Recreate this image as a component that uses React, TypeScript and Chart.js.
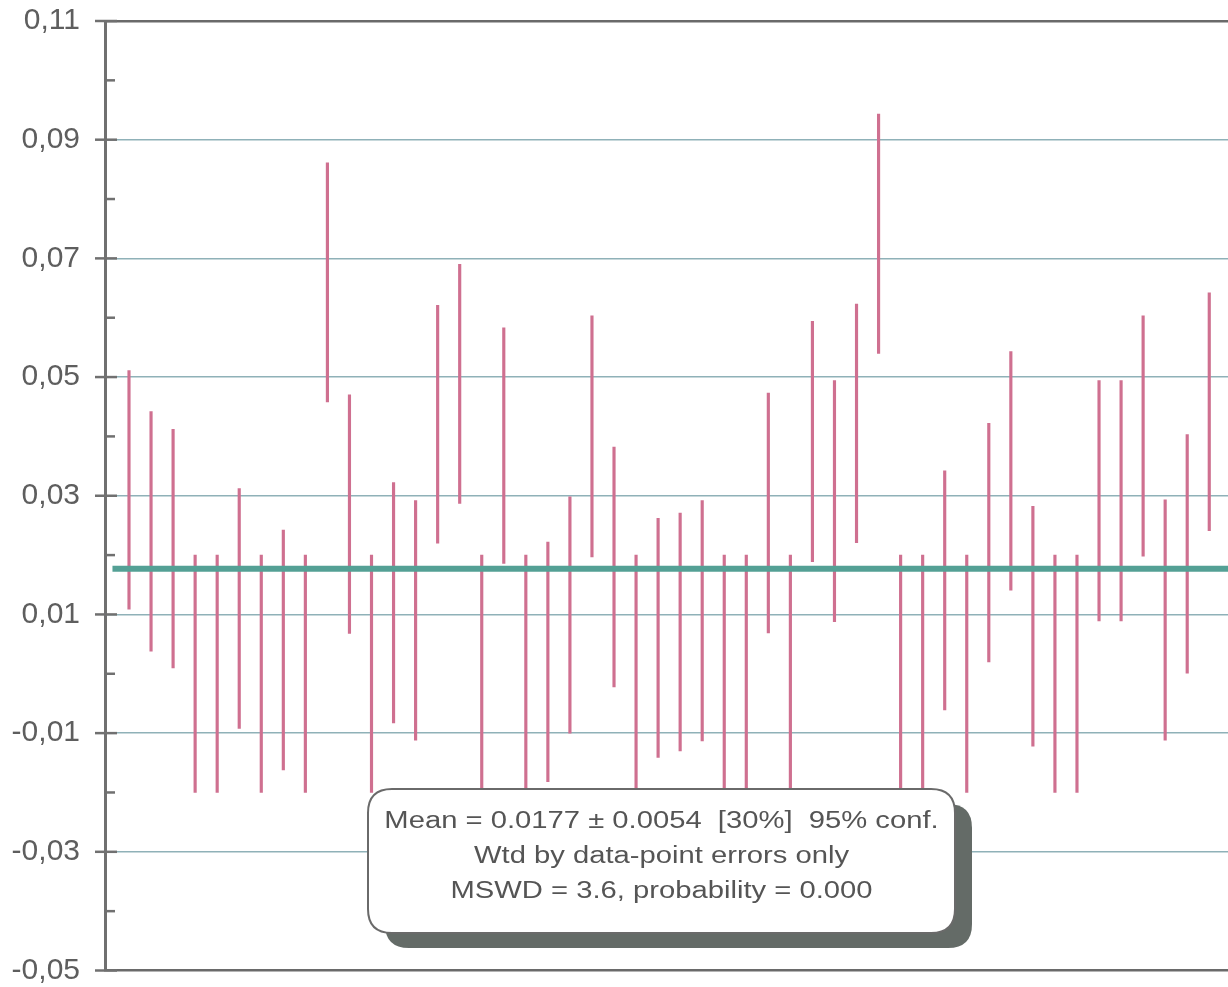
import React, { useEffect, useRef } from "react";
import { Chart, registerables } from "chart.js";

Chart.register(...registerables);

// sample numbers (x positions on a linear index axis)
const sampleIndex = [
  1, 2, 3, 4, 5, 6, 7, 8, 9, 10, 11, 12, 13, 14, 15, 16, 17, 18, 19, 20, 21, 22, 23, 24, 25,
  26, 27, 28, 29, 30, 31, 32, 33, 34, 35, 36, 37, 38, 39, 40, 41, 42, 43, 44, 45, 46, 47, 48, 49, 50,
];

// upper ends of the error bars
const highs = [
  0.0511, 0.0442, 0.0412, 0.02, 0.02, 0.0312, 0.02, 0.0242, 0.02, 0.0861,
  0.047, 0.02, 0.0322, 0.0292, 0.0621, 0.069, 0.02, 0.0583, 0.02, 0.0222,
  0.0298, 0.0603, 0.0382, 0.02, 0.0262, 0.0271, 0.0292, 0.02, 0.02, 0.0473,
  0.02, 0.0594, 0.0494, 0.0623, 0.0943, 0.02, 0.02, 0.0342, 0.02, 0.0422,
  0.0543, 0.0282, 0.02, 0.02, 0.0494, 0.0494, 0.0603, 0.0293, 0.0403, 0.0642,
];

// lower ends of the error bars
const lows = [
  0.0109, 0.0038, 0.001, -0.02, -0.02, -0.0092, -0.02, -0.0162, -0.02, 0.0458,
  0.0068, -0.02, -0.0083, -0.0112, 0.022, 0.0287, -0.02, 0.0186, -0.02, -0.0182,
  -0.01, 0.0197, -0.0022, -0.02, -0.0141, -0.013, -0.0113, -0.02, -0.02, 0.0069,
  -0.02, 0.0189, 0.0088, 0.0221, 0.054, -0.02, -0.02, -0.0061, -0.02, 0.002,
  0.0141, -0.0122, -0.02, -0.02, 0.0089, 0.0089, 0.0198, -0.0112, 0.0001, 0.0241,
];

const meanValue = 0.0177;
const meanLineX = [0.25, 50.85];

const xRange = [-0.0886, 50.85];
const yRange = [-0.05, 0.11];

// labelled y ticks
const yLabelTicks = [0.11, 0.09, 0.07, 0.05, 0.03, 0.01, -0.01, -0.03, -0.05];
const yLabelTexts = ["0,11", "0,09", "0,07", "0,05", "0,03", "0,01", "-0,01", "-0,03", "-0,05"];

const annotationLines = [
  "Mean = 0.0177 \u00b1 0.0054  [30%]  95% conf.",
  "Wtd by data-point errors only",
  "MSWD = 3.6, probability = 0.000",
];

const FONT = '"Liberation Sans", Arial, sans-serif';

function labelIndex(v: number): number {
  return yLabelTicks.findIndex((t) => Math.abs(t - v) < 1e-6);
}

const tickMarkPlugin = {
  id: "tickMarks",
  afterDraw(chart: any) {
    const y = chart.scales.y;
    const ctx = chart.ctx;
    const left = chart.chartArea.left;
    ctx.save();
    ctx.strokeStyle = "#707070";
    ctx.lineWidth = 2.5;
    y.ticks.forEach((t: any) => {
      const py = y.getPixelForValue(t.value);
      const major = labelIndex(t.value) >= 0;
      ctx.beginPath();
      if (major) {
        ctx.moveTo(left - 10, py);
        ctx.lineTo(left + 12, py);
      } else {
        ctx.moveTo(left, py);
        ctx.lineTo(left + 10, py);
      }
      ctx.stroke();
    });
    ctx.restore();
  },
};

function roundRectPath(ctx: CanvasRenderingContext2D, x: number, y: number, w: number, h: number, r: number) {
  ctx.beginPath();
  ctx.moveTo(x + r, y);
  ctx.lineTo(x + w - r, y);
  ctx.quadraticCurveTo(x + w, y, x + w, y + r);
  ctx.lineTo(x + w, y + h - r);
  ctx.quadraticCurveTo(x + w, y + h, x + w - r, y + h);
  ctx.lineTo(x + r, y + h);
  ctx.quadraticCurveTo(x, y + h, x, y + h - r);
  ctx.lineTo(x, y + r);
  ctx.quadraticCurveTo(x, y, x + r, y);
  ctx.closePath();
}

const annotationPlugin = {
  id: "annotationBox",
  afterDraw(chart: any) {
    const ctx = chart.ctx as CanvasRenderingContext2D;
    const area = chart.chartArea;
    const bx = area.left + 263;
    const by = area.top + 768;
    const bw = 587;
    const bh = 144;
    const r = 24;
    ctx.save();
    // shadow
    ctx.fillStyle = "#646b67";
    roundRectPath(ctx, bx + 17, by + 15, bw, bh, r);
    ctx.fill();
    // box
    ctx.fillStyle = "#ffffff";
    roundRectPath(ctx, bx, by, bw, bh, r);
    ctx.fill();
    ctx.strokeStyle = "#6a6a6a";
    ctx.lineWidth = 2;
    ctx.stroke();
    // text
    ctx.fillStyle = "#555555";
    ctx.font = `23px ${FONT}`;
    ctx.textAlign = "center";
    ctx.textBaseline = "alphabetic";
    const cx = bx + bw / 2;
    const sx = 1.27;
    annotationLines.forEach((line, i) => {
      ctx.save();
      ctx.translate(cx, by + 39 + i * 35);
      ctx.scale(sx, 1);
      ctx.fillText(line, 0, 0);
      ctx.restore();
    });
    ctx.restore();
  },
};

export default function App() {
  const canvasRef = useRef<HTMLCanvasElement | null>(null);

  useEffect(() => {
    const canvas = canvasRef.current;
    if (!canvas) return;
    const chart = new Chart(canvas, {
      type: "bar",
      data: {
        datasets: [
          {
            type: "line",
            data: meanLineX.map((x) => ({ x, y: meanValue })),
            borderColor: "#54a095",
            borderWidth: 6,
            pointRadius: 0,
            order: 1,
          } as any,
          {
            type: "bar",
            data: sampleIndex.map((x, i) => ({ x, y: [lows[i], highs[i]] })),
            backgroundColor: "#cf7090",
            borderWidth: 0,
            barThickness: 2.5,
            order: 2,
          } as any,
        ],
      },
      options: {
        responsive: false,
        animation: false,
        layout: { padding: { top: 21, bottom: 16.5, left: 0, right: 0 } },
        plugins: {
          legend: { display: false },
          tooltip: { enabled: false },
        },
        scales: {
          x: {
            type: "linear",
            min: xRange[0],
            max: xRange[1],
            offset: false,
            display: false,
          },
          y: {
            type: "linear",
            min: yRange[0],
            max: yRange[1],
            afterFit: (s: any) => {
              s.width = 105;
              s.paddingTop = 0;
              s.paddingBottom = 0;
            },
            ticks: {
              stepSize: 0.01,
              autoSkip: false,
              padding: 25,
              color: "#5e5e5e",
              font: { family: FONT, size: 30 },
              callback: (v: any) => {
                const i = labelIndex(Number(v));
                return i >= 0 ? yLabelTexts[i] : "";
              },
            },
            grid: {
              drawTicks: false,
              color: (c: any) => {
                const v = c.tick ? c.tick.value : 0;
                if (Math.abs(v - yRange[1]) < 1e-6 || Math.abs(v - yRange[0]) < 1e-6) return "#6a6a6a";
                return labelIndex(v) >= 0 ? "#8fb1b8" : "rgba(0,0,0,0)";
              },
              lineWidth: (c: any) => {
                const v = c.tick ? c.tick.value : 0;
                if (Math.abs(v - yRange[1]) < 1e-6 || Math.abs(v - yRange[0]) < 1e-6) return 2.5;
                return 1.5;
              },
            },
            border: { display: true, color: "#707070", width: 3 },
          },
        },
      } as any,
      plugins: [tickMarkPlugin, annotationPlugin],
    });
    return () => chart.destroy();
  }, []);

  return (
    <div style={{ position: "fixed", left: 0, top: 0, width: 1228, height: 987, background: "#ffffff" }}>
      <canvas ref={canvasRef} width={1228} height={987} style={{ display: "block", width: 1228, height: 987 }} />
    </div>
  );
}
